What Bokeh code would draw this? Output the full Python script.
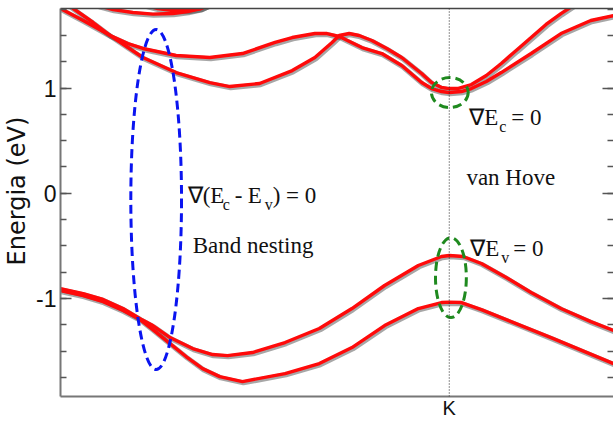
from bokeh.plotting import figure
from bokeh.models import (Range1d, FixedTicker, SingleIntervalTicker, LinearAxis,
                          Span, Label, ColumnDataSource, CustomJSTickFormatter)
from bokeh.transform import dodge
from bokeh.embed import file_html
from bokeh.resources import INLINE

# ---------------- data ----------------
# x: position along the k-path (fraction of the plotted path); K point tick
K_POS = 0.703
x_ticks = [K_POS]
x_tick_labels = ["K"]

# valence bands (eV)
v1_x = [0, 0.041, 0.077, 0.113, 0.144, 0.167, 0.198, 0.239, 0.275, 0.302, 0.347, 0.406,
        0.468, 0.527, 0.586, 0.647, 0.689, 0.703, 0.728, 0.761, 0.806, 0.851, 0.905, 0.959, 1.0]
v1_y = [-0.906, -0.954, -1.010, -1.096, -1.192, -1.258, -1.372, -1.476, -1.533, -1.543, -1.514, -1.419,
        -1.286, -1.096, -0.877, -0.687, -0.601, -0.592, -0.601, -0.668, -0.801, -0.944, -1.096, -1.220, -1.305]

v2_x = [0, 0.041, 0.077, 0.113, 0.144, 0.167, 0.198, 0.227, 0.257, 0.288, 0.329, 0.406, 0.468,
        0.527, 0.586, 0.647, 0.689, 0.703, 0.725, 0.761, 0.797, 0.887, 1.0]
v2_y = [-0.925, -0.972, -1.030, -1.115, -1.201, -1.296, -1.429, -1.552, -1.667, -1.743, -1.790, -1.714, -1.619,
        -1.467, -1.258, -1.096, -1.039, -1.035, -1.039, -1.106, -1.182, -1.372, -1.619]

# conduction bands (eV)
c1_x = [0.009, 0.023, 0.059, 0.090, 0.122, 0.149, 0.209, 0.270, 0.306, 0.360, 0.419, 0.460, 0.491,
        0.504, 0.522, 0.540, 0.563, 0.590, 0.617, 0.653, 0.671, 0.689, 0.703, 0.718, 0.743, 0.770,
        0.797, 0.824, 0.851, 0.878, 0.905, 0.919, 0.932]
c1_y = [1.813, 1.756, 1.623, 1.499, 1.385, 1.290, 1.147, 1.052, 1.014, 1.043, 1.166, 1.290, 1.433,
        1.499, 1.518, 1.499, 1.452, 1.376, 1.290, 1.138, 1.052, 1.005, 0.995, 0.995, 1.033, 1.119,
        1.233, 1.357, 1.480, 1.604, 1.708, 1.756, 1.803]

c2_x = [0, 0.041, 0.090, 0.122, 0.149, 0.209, 0.270, 0.329, 0.388, 0.419, 0.460, 0.482, 0.504,
        0.545, 0.581, 0.617, 0.653, 0.671, 0.689, 0.703, 0.725, 0.743, 0.770, 0.797, 0.851,
        0.905, 0.959, 1.0]
c2_y = [1.756, 1.642, 1.499, 1.423, 1.376, 1.309, 1.290, 1.328, 1.433, 1.480, 1.518, 1.518, 1.490,
        1.385, 1.328, 1.214, 1.052, 0.995, 0.967, 0.957, 0.967, 0.995, 1.062, 1.147, 1.328,
        1.518, 1.642, 1.689]

# higher bands just entering the window at the top
c3_x = [0.068, 0.095, 0.131, 0.167, 0.203, 0.230, 0.254, 0.266]
c3_y = [1.784, 1.746, 1.718, 1.703, 1.708, 1.727, 1.756, 1.784]
c4_x = [0.149, 0.176, 0.203, 0.230, 0.254, 0.266]
c4_y = [1.794, 1.756, 1.737, 1.737, 1.756, 1.784]

bands = [(v1_x, v1_y), (v2_x, v2_y), (c1_x, c1_y), (c2_x, c2_y), (c3_x, c3_y), (c4_x, c4_y)]

# highlighted regions (ellipses)
ell_x = [0.173, 0.704, 0.706]
ell_y = [-0.060, 0.957, -0.802]
ell_w = [0.0917, 0.0665, 0.0558]
ell_h = [3.232, 0.285, 0.760]
ell_color = ["#0a14f0", "#1f8a1f", "#1f8a1f"]

Y_MIN, Y_MAX = -1.932, 1.756

# ---------------- figure ----------------
p = figure(width=613, height=421, output_backend="svg", toolbar_location=None,
           x_range=Range1d(0, 1), y_range=Range1d(Y_MIN, Y_MAX),
           x_axis_type=None, y_axis_type=None)
p.min_border_left = 57
p.min_border_right = 0
p.min_border_top = 8
p.min_border_bottom = 20
p.background_fill_color = "white"
p.border_fill_color = "white"
p.outline_line_color = None
p.xgrid.visible = False
p.ygrid.visible = False

# left axis
yl = LinearAxis(ticker=SingleIntervalTicker(interval=1, num_minor_ticks=4))
yl.major_tick_in = 11
yl.major_tick_out = 0
yl.minor_tick_in = 6
yl.minor_tick_out = 0
yl.major_tick_line_color = "#555555"
yl.minor_tick_line_color = "#555555"
yl.major_tick_line_width = 1.5
yl.minor_tick_line_width = 1.5
yl.axis_line_color = "#777777"
yl.axis_line_width = 2
yl.major_label_text_font = "Liberation Sans"
yl.major_label_text_font_size = "23px"
yl.major_label_text_color = "#111111"
yl.major_label_standoff = 4
yl.major_label_overrides = {-1: "-1"}
yl.axis_label = "\u00a0\u00a0\u00a0Energia (eV)"
yl.axis_label_text_font = "DejaVu Sans"
yl.axis_label_text_font_size = "24px"
yl.axis_label_text_font_style = "normal"
yl.axis_label_text_color = "#111111"
yl.axis_label_standoff = 2
p.add_layout(yl, "left")

# right axis (ticks only)
yr = LinearAxis(ticker=SingleIntervalTicker(interval=1, num_minor_ticks=4),
                formatter=CustomJSTickFormatter(code="return ''"))
yr.major_tick_in = 11
yr.major_tick_out = 0
yr.minor_tick_in = 6
yr.minor_tick_out = 0
yr.major_tick_line_color = "#555555"
yr.minor_tick_line_color = "#555555"
yr.major_tick_line_width = 1.5
yr.minor_tick_line_width = 1.5
yr.axis_line_color = None
yr.major_label_standoff = 0
p.add_layout(yr, "right")

# top border (axis line only)
xt = LinearAxis(ticker=FixedTicker(ticks=[], minor_ticks=[]),
                formatter=CustomJSTickFormatter(code="return ''"))
xt.major_tick_in = 0
xt.major_tick_out = 0
xt.major_label_standoff = 0
xt.axis_line_color = "#444444"
xt.axis_line_width = 1.5
p.add_layout(xt, "above")

# bottom axis
xb = LinearAxis(ticker=FixedTicker(ticks=x_ticks, minor_ticks=[]))
xb.major_label_overrides = {t: s for t, s in zip(x_ticks, x_tick_labels)}
xb.major_tick_in = 0
xb.major_tick_out = 0
xb.axis_line_color = "#777777"
xb.axis_line_width = 2
xb.major_label_text_font = "Liberation Sans"
xb.major_label_text_font_size = "20px"
xb.major_label_text_color = "#111111"
xb.major_label_standoff = 0
p.add_layout(xb, "below")

# K dotted line
p.add_layout(Span(location=K_POS, dimension="height", line_color="#222222",
                  line_width=1, line_dash="1 2"))

# bands: soft shadow (slightly offset) + red line
for bx, by in bands:
    src = ColumnDataSource(dict(x=bx, y=by))
    p.line(x=dodge("x", 0.0018, range=p.x_range), y=dodge("y", -0.012, range=p.y_range),
           source=src, line_color="#222222", line_alpha=0.4, line_width=5)
for bx, by in bands:
    p.line(bx, by, line_color="#ff0a0a", line_width=3.4)

# ellipses
esrc = ColumnDataSource(dict(x=ell_x, y=ell_y, w=ell_w, h=ell_h, c=ell_color))
p.ellipse(x="x", y="y", width="w", height="h", source=esrc, fill_color=None,
          line_color="c", line_width=3, line_dash="9 5")

# ---------------- text ----------------
SERIF = "Liberation Serif"


def txt(x, y, s, size=23, dx=0, dy=0):
    p.add_layout(Label(x=x, y=y, text=s, x_offset=dx, y_offset=dy,
                       text_font=SERIF, text_font_size=f"{size}px",
                       text_color="#111111", text_align="left",
                       text_baseline="alphabetic"))


# ∇(Ec - Ev) = 0
txt(0.230, -0.022, "\u2207(E")
txt(0.230, -0.022, "c", 16, dx=35, dy=-9)
txt(0.230, -0.022, "-", dx=47)
txt(0.230, -0.022, "E", dx=60)
txt(0.230, -0.022, "v", 16, dx=77, dy=-9)
txt(0.230, -0.022, ") = 0", dx=85)
txt(0.239, -0.497, "Band nesting")

# ∇Ec = 0
txt(0.739, 0.720, "\u2207E")
txt(0.739, 0.720, "c", 16, dx=30, dy=-9)
txt(0.739, 0.720, "= 0", dx=42)
txt(0.734, 0.149, "van Hove")
# ∇Ev = 0
txt(0.741, -0.526, "\u2207E")
txt(0.741, -0.526, "v", 16, dx=31, dy=-9)
txt(0.741, -0.526, "= 0", dx=43)

open("out.html", "w").write(file_html(p, INLINE))
